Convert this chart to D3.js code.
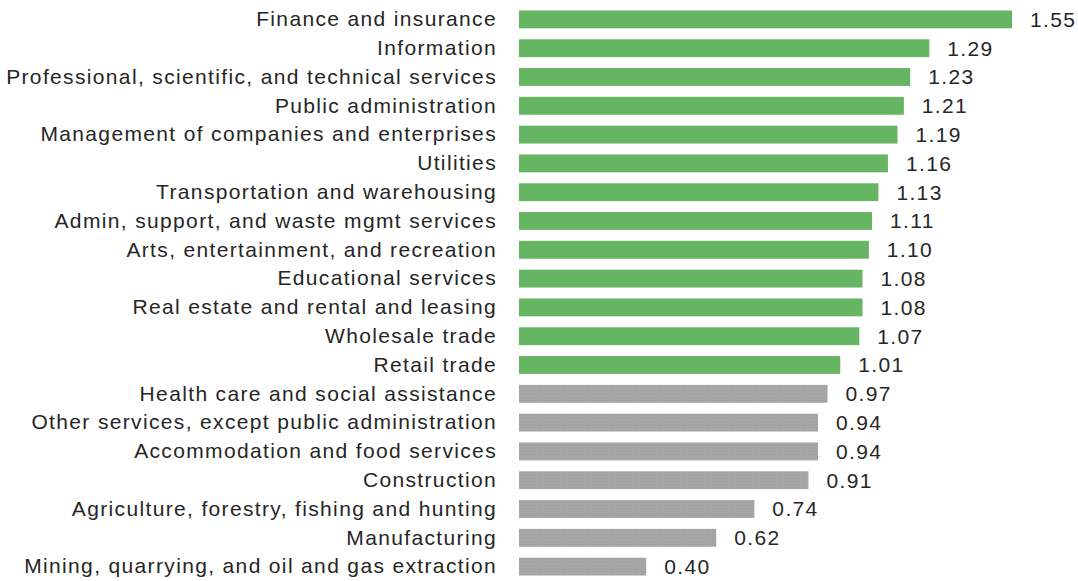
<!DOCTYPE html>
<html>
<head>
<meta charset="utf-8">
<script src="https://cdn.jsdelivr.net/npm/d3@7"></script>
<style>
  html, body { margin: 0; padding: 0; background: #fff; }
  svg { display: block; }
</style>
</head>
<body>
<svg id="chart" width="1078" height="581"></svg>
<script>
// Industries, ranked by index value
const categories = [
  "Finance and insurance",
  "Information",
  "Professional, scientific, and technical services",
  "Public administration",
  "Management of companies and enterprises",
  "Utilities",
  "Transportation and warehousing",
  "Admin, support, and waste mgmt services",
  "Arts, entertainment, and recreation",
  "Educational services",
  "Real estate and rental and leasing",
  "Wholesale trade",
  "Retail trade",
  "Health care and social assistance",
  "Other services, except public administration",
  "Accommodation and food services",
  "Construction",
  "Agriculture, forestry, fishing and hunting",
  "Manufacturing",
  "Mining, quarrying, and oil and gas extraction"
];
const values = [1.55, 1.29, 1.23, 1.21, 1.19, 1.16, 1.13, 1.11, 1.10, 1.08,
                1.08, 1.07, 1.01, 0.97, 0.94, 0.94, 0.91, 0.74, 0.62, 0.40];

const data = categories.map((c, i) => ({ name: c, value: values[i] }));

const svg = d3.select("#chart");
const x0 = 519;
const x = d3.scaleLinear().domain([0, 1.55]).range([x0, 1012]);
const y = d3.scaleBand().domain(categories).range([5, 581]).paddingInner(0.38).paddingOuter(0.19);

const green = "#66b562";
const grey = "#a6a6a6";
const fontFamily = "Liberation Sans, Arial, sans-serif";
const fontSize = "21px";
const spacing = "1.35px";

// Subtle dotted texture for below-1 bars
const defs = svg.append("defs");
const pat = defs.append("pattern")
  .attr("id", "dots").attr("width", 3).attr("height", 3)
  .attr("patternUnits", "userSpaceOnUse");
pat.append("rect").attr("width", 3).attr("height", 3).attr("fill", grey);
pat.append("rect").attr("x", 1).attr("y", 1).attr("width", 1).attr("height", 1).attr("fill", "#9c9c9c");

svg.append("g").selectAll("rect")
  .data(data)
  .join("rect")
  .attr("x", x0)
  .attr("y", d => y(d.name))
  .attr("width", d => x(d.value) - x0)
  .attr("height", y.bandwidth())
  .attr("fill", d => d.value > 1 ? green : "url(#dots)");

// Category labels (axis without line/ticks)
const axis = svg.append("g")
  .attr("transform", `translate(${x0 - 22},0)`)
  .call(d3.axisLeft(y).tickSize(0).tickPadding(0));
axis.select(".domain").remove();
axis.selectAll("text")
  .attr("fill", "#262626")
  .style("font-family", fontFamily)
  .style("font-size", fontSize)
  .style("letter-spacing", spacing);

// Value labels
svg.append("g").selectAll("text")
  .data(data)
  .join("text")
  .attr("x", d => x(d.value) + 18)
  .attr("y", d => y(d.name) + y.bandwidth() / 2)
  .attr("dy", "0.35em")
  .attr("fill", "#262626")
  .style("font-family", fontFamily)
  .style("font-size", fontSize)
  .style("letter-spacing", spacing)
  .text(d => d.value.toFixed(2));
</script>
</body>
</html>
